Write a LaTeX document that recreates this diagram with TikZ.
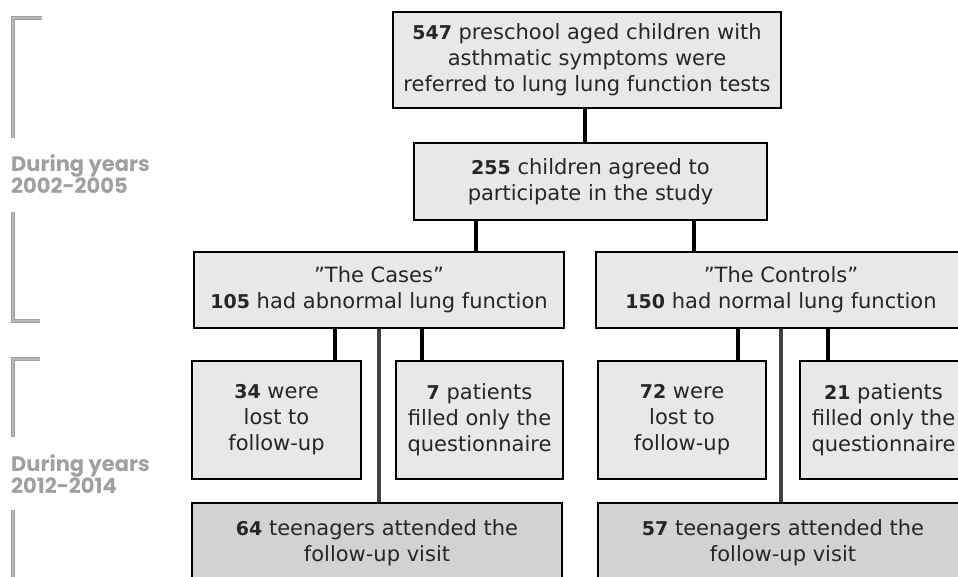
\documentclass[tikz,border=0pt]{standalone}
\usepackage{fontspec}
\setmainfont{DejaVu Sans}
\newfontfamily\periodfont{Poppins}
\usetikzlibrary{positioning}
\definecolor{boxfill}{HTML}{E8E8E8}
\definecolor{visitfill}{HTML}{D2D2D2}
\definecolor{txtgray}{HTML}{262626}
\definecolor{periodgray}{HTML}{A0A0A0}
\newcommand{\cnt}[1]{{\bfseries\fontsize{19}{26}\selectfont #1}}

\tikzset{
  flowbox/.style={draw=black, line width=2.5pt, fill=boxfill, align=center, inner sep=0pt,
    text=txtgray, font=\fontsize{21}{26}\selectfont},
  visitbox/.style={flowbox, fill=visitfill},
  link/.style={line width=4pt, black},
  visitlink/.style={line width=4.5pt, black!75},
  bracket/.style={line width=1.1pt, periodgray, double=periodgray!75, double distance=1.3pt},
  period/.style={align=left, anchor=west, text=periodgray, inner sep=0pt,
    font=\periodfont\bfseries\fontsize{21}{22}\selectfont}
}

\begin{document}
\begin{tikzpicture}[x=1pt, y=-1pt]
            \useasboundingbox (0,0) rectangle (958,576);
            \clip (0,0) rectangle (958,576);

            % Boxes
            \node[flowbox, minimum width=388, minimum height=96] (top) at (587,60)
                {\cnt{547} preschool aged children with\\asthmatic symptoms were\\referred to lung lung function tests};
            \node[flowbox, minimum width=353, minimum height=77] (agreed) at (590.5,181.5)
                {\cnt{255} children agreed to\\participate in the study};
            \node[flowbox, minimum width=370, minimum height=76] (cases) at (379,290)
                {”The Cases”\\\cnt{105} had abnormal lung function};
            \node[flowbox, minimum width=370, minimum height=76] (controls) at (781,290)
                {”The Controls”\\\cnt{150} had normal lung function};

            \node[flowbox, minimum width=169, minimum height=118] (lostA) at (276.5,420)
                {\cnt{34} were\\lost to\\follow-up};
            \node[flowbox, minimum width=167, minimum height=118] (quesA) at (479.5,420)
                {\cnt{7} patients\\filled only the\\questionnaire};
            \node[flowbox, minimum width=168, minimum height=118] (lostB) at (682,420)
                {\cnt{72} were\\lost to\\follow-up};
            \node[flowbox, minimum width=167, minimum height=118] (quesB) at (883.5,420)
                {\cnt{21} patients\\filled only the\\questionnaire};

            \node[visitbox, minimum width=370, minimum height=80] (visitA) at (377,543)
                {\cnt{64} teenagers attended the\\follow-up visit};
            \node[visitbox, minimum width=370, minimum height=80] (visitB) at (783,543)
                {\cnt{57} teenagers attended the\\follow-up visit};

            % Draw edges
            \draw[link] ([xshift=-2]top.south) -- ([xshift=-2]top.south |- agreed.north);
            \draw[link] ([xshift=63]agreed.south west) -- ([xshift=63]agreed.south west |- cases.north);
            \draw[link] ([xshift=-74]agreed.south east) -- ([xshift=-74]agreed.south east |- controls.north);

            \draw[link] ([xshift=58]lostA.north) -- ([xshift=58]lostA.north |- cases.south);
            \draw[link] ([xshift=-58]quesA.north) -- ([xshift=-58]quesA.north |- cases.south);
            \draw[visitlink] (cases.south) -- (cases.south |- visitA.north);

            \draw[link] ([xshift=56]lostB.north) -- ([xshift=56]lostB.north |- controls.south);
            \draw[link] ([xshift=-56]quesB.north) -- ([xshift=-56]quesB.north |- controls.south);
            \draw[visitlink] (controls.south) -- (controls.south |- visitB.north);

            % Periods
            \node[period] (first) at (11,174) {During years\\2002-2005};
            \node[period] (second) at (11,474) {During years\\2012-2014};

            \draw[bracket] (42,18) -- (13,18) -- (13,138);
            \draw[bracket] (13,212) -- (13,321) -- (40,321);
            \draw[bracket] (40,359) -- (13,359) -- (13,437);
            \draw[bracket] (13,510) -- (13,590);
        \end{tikzpicture}
\end{document}
